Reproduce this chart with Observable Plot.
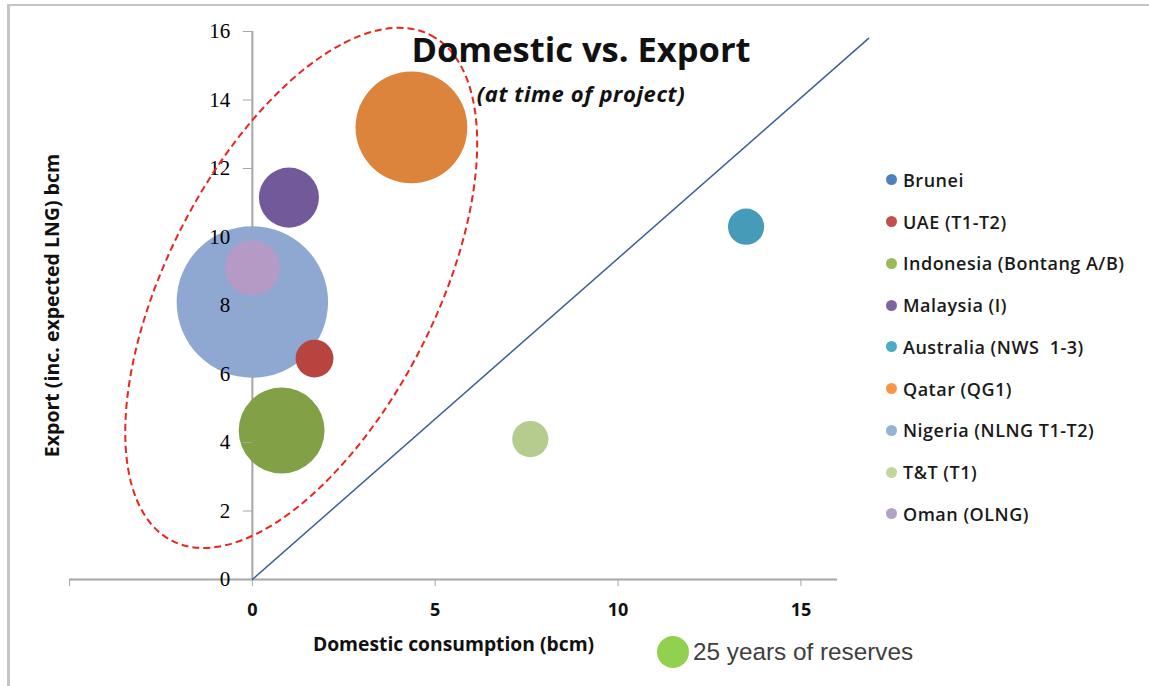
<!DOCTYPE html>
<html>
<head>
<meta charset="utf-8">
<script src="https://cdn.jsdelivr.net/npm/d3@7"></script>
<script src="https://cdn.jsdelivr.net/npm/@observablehq/plot@0.6"></script>
<style>
  html, body { margin: 0; padding: 0; background: #fff; }
  #wrap { position: relative; width: 1149px; height: 686px; overflow: hidden; background: #fff; }
  #frame { position: absolute; left: 7px; top: 4px; right: -4px; bottom: -4px; border-top: 2px solid #c4c4c4; border-left: 3px solid #c4c4c4; }
  #chart { position: absolute; left: 0; top: 0; }
  .title { position: absolute; left: 381px; width: 400px; text-align: center; font-family: "Open Sans", sans-serif; color: #111; white-space: nowrap; }
  #t1 { top: 25px; font-size: 34.5px; font-weight: 700; }
  #t2 { top: 78px; font-size: 22px; font-weight: 700; font-style: italic; letter-spacing: 0.6px; }
  #legend { position: absolute; left: 886px; top: 159px; font-family: "Open Sans", sans-serif; font-weight: 600; font-size: 18px; letter-spacing: 0.5px; color: #1a1a1a; }
  .item { height: 41.75px; display: flex; align-items: center; white-space: nowrap; }
  .sw { width: 11px; height: 11px; border-radius: 50%; margin-right: 6px; }
  #reserve { position: absolute; left: 657px; top: 636px; display: flex; align-items: center; font-family: "Liberation Sans", Arial, sans-serif; font-size: 24.3px; color: #404040; white-space: nowrap; }
  #reserve .big { border-radius: 50%; background: #92d050; margin-right: 4px; }
</style>
</head>
<body>
<div id="wrap">
  <div id="frame"></div>
  <div id="chart"></div>
  <div class="title" id="t1">Domestic vs. Export</div>
  <div class="title" id="t2">(at time of project)</div>
  <div id="legend"></div>
  <div id="reserve"></div>
</div>
<script>
// ---- data ----
const projects = ["Brunei", "UAE (T1-T2)", "Indonesia (Bontang A/B)", "Malaysia (I)", "Australia (NWS  1-3)", "Qatar (QG1)", "Nigeria (NLNG T1-T2)", "T&T (T1)", "Oman (OLNG)"];
const domestic = [null, 1.7, 0.8, 1.0, 13.5, 4.35, 0, 7.6, 0];
const exportBcm = [null, 6.45, 4.35, 11.15, 10.3, 13.2, 8.1, 4.1, 9.1];
const reserveYears = [null, 35, 180, 88, 32, 305, 560, 32, 74];
const seriesColors = ["#4f81bd", "#b8443f", "#82a046", "#72599a", "#469bb9", "#dc843b", "#8fa8d2", "#b5cc8e", "#b49ac4"];
const legendColors = ["#4f81bd", "#c0504d", "#9bbb59", "#8064a2", "#4bacc6", "#f79646", "#95b3d7", "#c3d69b", "#b3a2c7"];
const parityX = [0, 16.85];
const parityY = [0, 15.8];
const xTicks = [-5, 0, 5, 10, 15];
const yTicks = [0, 2, 4, 6, 8, 10, 12, 14, 16];
const reserveLegendYears = 25;
const reserveLegendLabel = "25 years of reserves";
const xTitle = "Domestic consumption (bcm)";
const yTitle = "Export (inc. expected LNG) bcm";
// annotation ellipse (centre in data units)
const ellipseCenter = [1.35, 8.5];

const rows = projects.map((p, i) => ({project: p, domestic: domestic[i], exp: exportBcm[i], years: reserveYears[i]}));
const parity = parityX.map((x, i) => ({x, y: parityY[i]}));

const plot = Plot.plot({
  width: 1149,
  height: 686,
  marginLeft: 69,
  marginRight: 312,
  marginTop: 31,
  marginBottom: 107,
  x: {domain: [-5, 16]},
  y: {domain: [0, 16]},
  r: {type: "sqrt", domain: [0, 25], range: [0, 16]},
  color: {domain: projects, range: seriesColors},
  style: {background: "transparent", overflow: "visible"},
  marks: [
    Plot.ruleY([0], {stroke: "#a6a6a6", strokeWidth: 2}),
    Plot.ruleX([0], {y1: 0, y2: 16, stroke: "#a6a6a6", strokeWidth: 2}),
    Plot.axisX({ticks: xTicks, tickSize: 7, tickPadding: 17, tickFormat: d => d < 0 ? "" : d, stroke: "#a6a6a6", fill: "#111", fontFamily: "Open Sans", fontWeight: "bold", fontSize: 18, label: null}),
    Plot.line(parity, {x: "x", y: "y", stroke: "#3b5f98", strokeWidth: 1.5}),
    Plot.dot(rows, {x: "domestic", y: "exp", r: "years", fill: "project"}),
    Plot.axisY({x: 0, ticks: yTicks, tickSize: 9, tickPadding: 13, stroke: "#a6a6a6", fill: "#000", fontFamily: "Liberation Serif", fontSize: 21, label: null}),
    Plot.text([xTitle], {text: d => d, frameAnchor: "bottom", dy: 71, fontFamily: "Open Sans", fontWeight: "bold", fontSize: 19.3, fill: "#111"}),
    Plot.text([yTitle], {text: d => d, frameAnchor: "left", dx: -17, rotate: -90, textAnchor: "middle", fontFamily: "Open Sans", fontWeight: "bold", fontSize: 19.5, fill: "#111"})
  ]
});
document.getElementById("chart").appendChild(plot);

// dashed annotation ellipse, positioned through the plot's scales
const sx = plot.scale("x"), sy = plot.scale("y");
const ns = "http://www.w3.org/2000/svg";
const ell = document.createElementNS(ns, "ellipse");
const cx = sx.apply(ellipseCenter[0]), cy = sy.apply(ellipseCenter[1]);
ell.setAttribute("cx", cx);
ell.setAttribute("cy", cy);
ell.setAttribute("rx", 284);
ell.setAttribute("ry", 134);
ell.setAttribute("transform", `rotate(-62.9 ${cx} ${cy})`);
ell.setAttribute("fill", "none");
ell.setAttribute("stroke", "#e8261f");
ell.setAttribute("stroke-width", 2);
ell.setAttribute("stroke-dasharray", "7,4");
plot.appendChild(ell);

// legend
const legend = document.getElementById("legend");
projects.forEach((p, i) => {
  const it = document.createElement("div");
  it.className = "item";
  const sw = document.createElement("span");
  sw.className = "sw";
  sw.style.background = legendColors[i];
  const tx = document.createElement("span");
  tx.textContent = p;
  tx.style.whiteSpace = "pre";
  it.appendChild(sw); it.appendChild(tx);
  legend.appendChild(it);
});

// reserves size legend
const rr = plot.scale("r").apply(reserveLegendYears);
const res = document.getElementById("reserve");
const big = document.createElement("span");
big.className = "big";
big.style.width = (2 * rr) + "px";
big.style.height = (2 * rr) + "px";
const rl = document.createElement("span");
rl.textContent = reserveLegendLabel;
res.appendChild(big); res.appendChild(rl);
</script>
</body>
</html>
